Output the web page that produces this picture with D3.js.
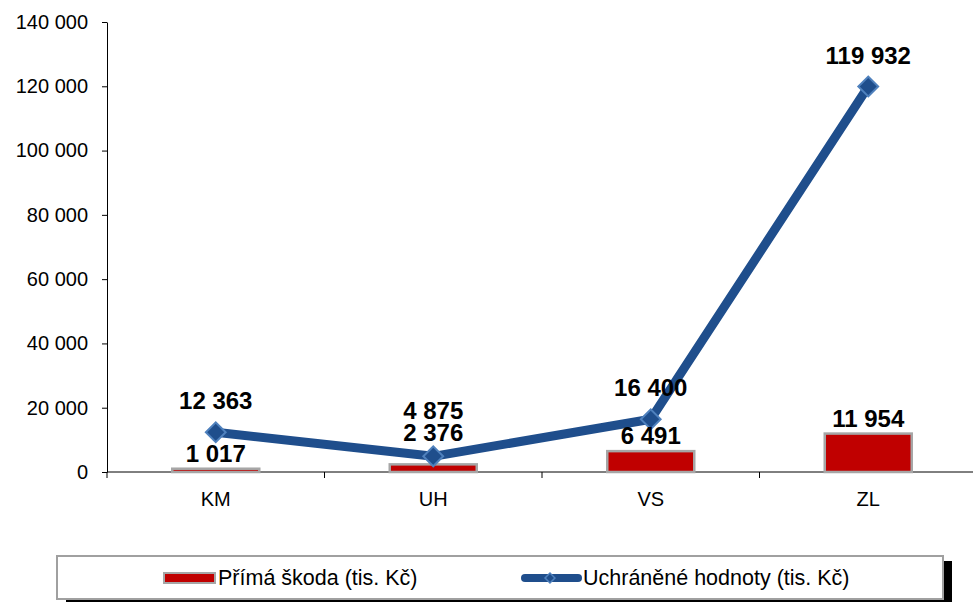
<!DOCTYPE html>
<html>
<head>
<meta charset="utf-8">
<script src="https://cdn.jsdelivr.net/npm/d3@7"></script>
<style>
  body { margin: 0; background: #fff; }
  svg { display: block; font-family: "Liberation Sans", Arial, sans-serif; }
</style>
</head>
<body>
<svg id="chart" width="973" height="602"></svg>
<script>
// data
const categories = ['KM', 'UH', 'VS', 'ZL']
const primaSkoda = [1017, 2376, 6491, 11954]
const uchraneneHodnoty = [12363, 4875, 16400, 119932]
const yTicks = [0, 20000, 40000, 60000, 80000, 100000, 120000, 140000]
const legendLabels = ['Přímá škoda (tis. Kč)', 'Uchráněné hodnoty (tis. Kč)']

const barColor = '#c00000'
const lineColor = '#1f4e8c'

let svg = d3.select('#chart')
let margin = {left: 107, top: 22, bottom: 130}
let plotH = 602 - margin.top - margin.bottom

let x = d3.scaleBand().domain(categories).range([107, 977])
let y = d3.scaleLinear().domain([0, 140000]).range([margin.top + plotH, margin.top])

let fmt = v => d3.format(',')(v).replace(/,/g, ' ')

// y axis
let yAxis = svg.append('g')
    .attr('transform', `translate(${margin.left},0)`)
    .call(d3.axisLeft(y).tickValues(yTicks).tickFormat(fmt).tickSize(5).tickSizeOuter(0))
yAxis.select('.domain').attr('stroke', '#000')
yAxis.selectAll('.tick line').attr('stroke', '#000')
yAxis.selectAll('text')
    .attr('font-size', 20)
    .attr('fill', '#000')
    .attr('font-family', 'Liberation Sans, Arial')
    .attr('x', -19)

// x axis, ticks between categories
let xAxis = svg.append('g')
    .attr('transform', `translate(0,${y(0)})`)
xAxis.append('line').attr('x1', x.range()[0]).attr('x2', x.range()[1]).attr('stroke', '#000')
xAxis.selectAll('.sep').data(categories).enter()
    .append('line')
    .attr('x1', d => x(d)).attr('x2', d => x(d))
    .attr('y1', 0).attr('y2', 6)
    .attr('stroke', '#000')
xAxis.selectAll('text').data(categories).enter()
    .append('text')
    .attr('x', d => x(d) + x.bandwidth() / 2)
    .attr('y', 34)
    .attr('text-anchor', 'middle')
    .attr('font-size', 20)
    .text(d => d)

// bars
let barW = x.bandwidth() * 0.4
svg.selectAll('rect.bar').data(primaSkoda).enter()
    .append('rect')
    .attr('class', 'bar')
    .attr('x', (d, i) => x(categories[i]) + (x.bandwidth() - barW) / 2)
    .attr('y', d => y(d))
    .attr('width', barW)
    .attr('height', d => y(0) - y(d))
    .attr('fill', barColor)
    .attr('stroke', '#a6a6a6')
    .attr('stroke-width', 2.5)

// line
let cx = i => x(categories[i]) + x.bandwidth() / 2
svg.append('path')
    .datum(uchraneneHodnoty)
    .attr('d', d3.line().x((d, i) => cx(i)).y(d => y(d)))
    .attr('fill', 'none')
    .attr('stroke', lineColor)
    .attr('stroke-width', 9)
    .attr('stroke-linejoin', 'round')

svg.selectAll('rect.mark').data(uchraneneHodnoty).enter()
    .append('rect')
    .attr('class', 'mark')
    .attr('x', -7).attr('y', -7).attr('width', 14).attr('height', 14)
    .attr('transform', (d, i) => `translate(${cx(i)},${y(d)}) rotate(45)`)
    .attr('fill', lineColor)
    .attr('stroke', '#4f81bd')
    .attr('stroke-width', 2)

// data labels (UH labels were moved apart by hand in the original)
let barLabelNudge = {UH: -16}
svg.selectAll('text.barlab').data(primaSkoda).enter()
    .append('text')
    .attr('class', 'barlab')
    .attr('x', (d, i) => cx(i))
    .attr('y', (d, i) => y(d) - 7 + (barLabelNudge[categories[i]] || 0))
    .attr('text-anchor', 'middle')
    .attr('font-size', 24).attr('font-weight', 'bold')
    .text(fmt)

svg.selectAll('text.linelab').data(uchraneneHodnoty).enter()
    .append('text')
    .attr('class', 'linelab')
    .attr('x', (d, i) => cx(i))
    .attr('y', (d, i) => {
        if (categories[i] === 'UH') return y(primaSkoda[i]) - 7 + barLabelNudge.UH - 22
        return y(d) - 23
    })
    .attr('text-anchor', 'middle')
    .attr('font-size', 24).attr('font-weight', 'bold')
    .text(fmt)

// legend
let lg = svg.append('g')
lg.append('rect').attr('x', 66).attr('y', 561).attr('width', 886).attr('height', 45).attr('fill', '#000')
lg.append('rect').attr('x', 57).attr('y', 556).attr('width', 886).attr('height', 43)
    .attr('fill', '#fff').attr('stroke', '#a0a0a0').attr('stroke-width', 2)

lg.append('rect').attr('x', 164).attr('y', 573).attr('width', 51).attr('height', 10)
    .attr('fill', barColor).attr('stroke', '#a6a6a6').attr('stroke-width', 2)
lg.append('text').attr('x', 218).attr('y', 585).attr('font-size', 21.5).text(legendLabels[0])

lg.append('line').attr('x1', 525).attr('x2', 578).attr('y1', 578).attr('y2', 578)
    .attr('stroke', lineColor).attr('stroke-width', 8).attr('stroke-linecap', 'round')
lg.append('rect').attr('x', -3.5).attr('y', -3.5).attr('width', 7).attr('height', 7)
    .attr('transform', 'translate(550,578) rotate(45)')
    .attr('fill', lineColor).attr('stroke', '#4f81bd').attr('stroke-width', 1.5)
lg.append('text').attr('x', 583).attr('y', 585).attr('font-size', 21.5).text(legendLabels[1])
</script>
</body>
</html>
